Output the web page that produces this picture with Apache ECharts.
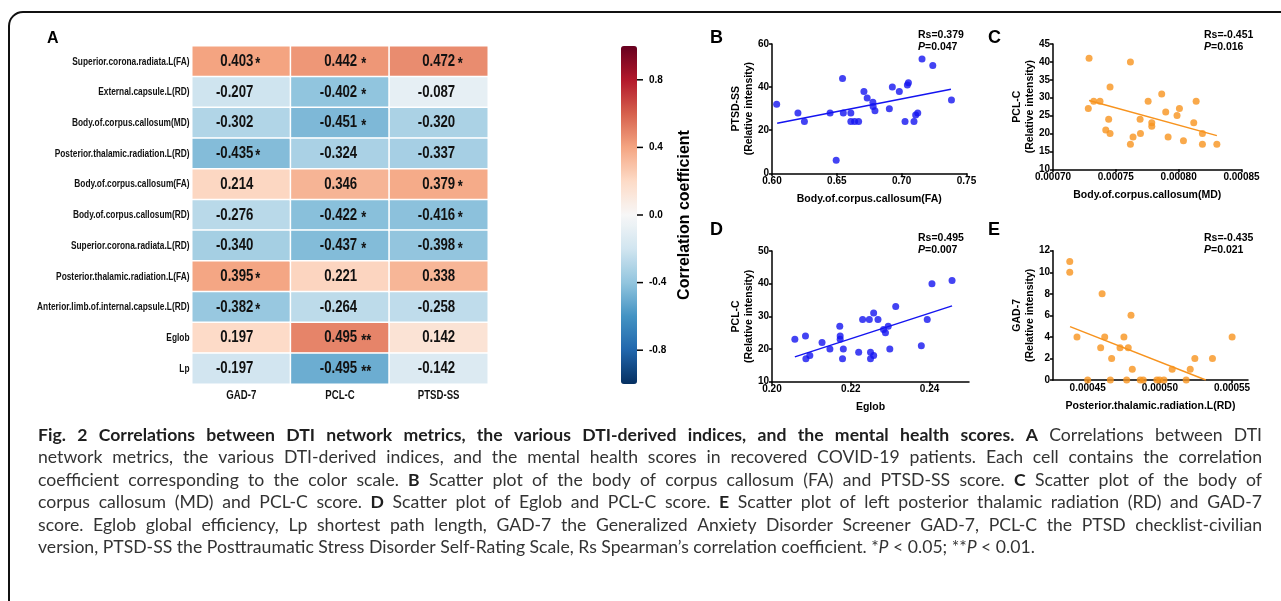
<!DOCTYPE html>
<html>
<head>
<meta charset="utf-8">
<script src="https://cdn.jsdelivr.net/npm/echarts@6/dist/echarts.min.js"></script>
<style>
html,body{margin:0;padding:0;background:#fff;}
#chart{width:1281px;height:601px;}
</style>
</head>
<body>
<div id="chart"></div>
<script>
// ---------------- DATA ----------------
const rows = ['Superior.corona.radiata.L(FA)','External.capsule.L(RD)','Body.of.corpus.callosum(MD)','Posterior.thalamic.radiation.L(RD)','Body.of.corpus.callosum(FA)','Body.of.corpus.callosum(RD)','Superior.corona.radiata.L(RD)','Posterior.thalamic.radiation.L(FA)','Anterior.limb.of.internal.capsule.L(RD)','Eglob','Lp'];
const cols = ['GAD-7','PCL-C','PTSD-SS'];
const gad7 = [0.403,-0.207,-0.302,-0.435,0.214,-0.276,-0.340,0.395,-0.382,0.197,-0.197];
const pclc = [0.442,-0.402,-0.451,-0.324,0.346,-0.422,-0.437,0.221,-0.264,0.495,-0.495];
const ptsdss = [0.472,-0.087,-0.320,-0.337,0.379,-0.416,-0.398,0.338,-0.258,0.142,-0.142];
const gad7Sig = ['*','','','*','','','','*','*','',''];
const pclcSig = ['*','*','*','','','*','*','','','**','**'];
const ptsdssSig = ['*','','','','*','*','*','','','',''];
const colorbarTicks = [-0.8,-0.4,0,0.4,0.8];

// B: Body.of.corpus.callosum(FA) vs PTSD-SS
const bX = [0.6036,0.620,0.625,0.6448,0.6544,0.655,0.6495,0.6608,0.6608,0.6637,0.6668,0.6709,0.6734,0.6778,0.678,0.6794,0.6905,0.6928,0.6982,0.7026,0.7044,0.7052,0.7095,0.7108,0.7124,0.7157,0.724,0.7384];
const bY = [32,28,24,28,44,28,6,28,24,24,24,38,35,33,31,29,30,40,38,24,41,42,24,27,28,53,50,34];
const bLineX = [0.604,0.738];
const bLineY = [23.2,39.0];
const bXTicks = [0.60,0.65,0.70,0.75];
// C: Body.of.corpus.callosum(MD) vs PCL-C
const cX = [0.0007287,0.0007281,0.0007324,0.0007374,0.0007454,0.0007443,0.000742,0.0007454,0.0007616,0.0007616,0.0007637,0.0007693,0.0007696,0.0007757,0.0007786,0.0007786,0.0007865,0.0007897,0.0007916,0.0007987,0.0008006,0.0008038,0.000812,0.0008139,0.0008189,0.0008189,0.0008304];
const cY = [41,27,29,29,33,24,21,20,40,17,19,24,20,29,23,22,31,26,19,25,27,18,23,29,20,17,17];
const cLineX = [0.0007287,0.0008304];
const cLineY = [29.2,19.4];
const cXTicks = [0.00070,0.00075,0.00080,0.00085];
// D: Eglob vs PCL-C
const dX = [0.2058,0.2085,0.2086,0.2096,0.2127,0.2147,0.2172,0.2173,0.2173,0.2179,0.2181,0.222,0.223,0.2247,0.225,0.225,0.2258,0.2258,0.2269,0.2283,0.2288,0.2295,0.2299,0.2314,0.2379,0.2394,0.2406,0.2457];
const dY = [23,24,17,18,22,20,27,24,23,17,20,19,29,29,19,17,18,31,29,26,25,27,20,33,21,29,40,41];
const dLineX = [0.2058,0.2457];
const dLineY = [17.6,33.2];
const dXTicks = [0.20,0.22,0.24];
// E: Posterior.thalamic.radiation.L(RD) vs GAD-7
const eX = [0.0004376,0.0004376,0.0004426,0.00045,0.000460,0.000459,0.0004618,0.0004657,0.0004666,0.0004724,0.0004751,0.000477,0.0004781,0.00048,0.0004809,0.0004864,0.0004885,0.0004979,0.0004998,0.0005028,0.0005085,0.0005182,0.000521,0.0005242,0.0005364,0.00055];
const eY = [11,10,4,0,8,3,4,0,2,3,4,0,3,6,1,0,0,0,0,0,1,0,1,2,2,4];
const eLineX = [0.0004378,0.0005318];
const eLineY = [4.95,0];
const eXTicks = [0.00045,0.00050,0.00055];

const stats = [
  {rs:'Rs=0.379', p:'=0.047'},
  {rs:'Rs=-0.451', p:'=0.016'},
  {rs:'Rs=0.495', p:'=0.007'},
  {rs:'Rs=-0.435', p:'=0.021'}
];

const capLines = [
 [['Fig. 2 Correlations between DTI network metrics, the various DTI-derived indices, and the mental health scores. A','b'],[' Correlations between DTI','n']],
 [['network metrics, the various DTI-derived indices, and the mental health scores in recovered COVID-19 patients. Each cell contains the correlation','n']],
 [['coefficient corresponding to the color scale. ','n'],['B','b'],[' Scatter plot of the body of corpus callosum (FA) and PTSD-SS score. ','n'],['C','b'],[' Scatter plot of the body of','n']],
 [['corpus callosum (MD) and PCL-C score. ','n'],['D','b'],[' Scatter plot of Eglob and PCL-C score. ','n'],['E','b'],[' Scatter plot of left posterior thalamic radiation (RD) and GAD-7','n']],
 [['score. Eglob global efficiency, Lp shortest path length, GAD-7 the Generalized Anxiety Disorder Screener GAD-7, PCL-C the PTSD checklist-civilian','n']],
 [['version, PTSD-SS the Posttraumatic Stress Disorder Self-Rating Scale, Rs Spearman\u2019s correlation coefficient. *','n'],['P','i'],[' < 0.05; **','n'],['P','i'],[' < 0.01.','n']]
];

// ---------------- STYLE ----------------
const ARIAL = "'Liberation Sans',Arial,sans-serif";
const CAP = "Lato,'Open Sans',sans-serif";
const RDBU = ['#053061','#2166ac','#4393c3','#92c5de','#d1e5f0','#f7f7f7','#fddbc7','#f4a582','#d6604d','#b2182b','#67001f'];
const BLUE = '#1414f0';
const ORANGE = '#f7931e';
const HEAT_TEXT = '#111';

const colVals = [gad7, pclc, ptsdss];
const colSig = [gad7Sig, pclcSig, ptsdssSig];
const numRight = [12, 17.2, 16.5];   // right edge of the number relative to cell centre
const starGap = [2, 4, 2.5];
const heatData = [];
const heatSig = [];
colVals.forEach((arr, c) => arr.forEach((v, r) => { heatData.push([c, r, v]); heatSig.push(colSig[c][r]); }));

const zip = (a, b) => a.map((v, i) => [v, b[i]]);

function sAxis(grid, o) {
  return Object.assign({
    gridIndex: grid, type: 'value',
    axisLine: {show: true, onZero: false, lineStyle: {color: '#000', width: 1.5}},
    axisTick: {show: true, length: 3, lineStyle: {color: '#000', width: 1.5}},
    axisLabel: {fontFamily: ARIAL, fontWeight: 'bold', fontSize: 10, color: '#000', margin: 3},
    splitLine: {show: false},
    nameTextStyle: {fontFamily: ARIAL, fontWeight: 'bold', fontSize: 10.5, color: '#000', lineHeight: 13.5},
    nameMoveOverlap: false
  }, o);
}
function xCustom(grid, min, max, ticks, dec, name) {
  const a = sAxis(grid, {min, max, name, nameLocation: 'middle', nameGap: 19});
  a.axisTick = Object.assign({}, a.axisTick, {customValues: ticks});
  a.axisLabel = Object.assign({}, a.axisLabel, {customValues: ticks, formatter: v => (+v).toFixed(dec)});
  return a;
}
function yAx(grid, min, max, interval, name) {
  return sAxis(grid, {min, max, interval, name, nameLocation: 'middle', nameGap: 16, nameRotate: 90});
}

// ---------------- CAPTION LAYOUT ----------------
const mctx = document.createElement('canvas').getContext('2d');
function capFont(st, size) {
  return (st === 'i' ? 'italic ' : 'normal ') + (st === 'b' ? 'bold ' : 'normal ') + size + 'px ' + CAP;
}
function measure(t, st, size) { mctx.font = capFont(st, size); return mctx.measureText(t).width; }
function toWords(line) {
  const words = [[]];
  line.forEach(([t, st]) => {
    t.split(' ').forEach((p, j) => {
      if (j > 0) words.push([]);
      if (p) words[words.length - 1].push({t: p, st});
    });
  });
  return words.filter(w => w.length);
}
const capWords = capLines.map(toWords);
const CAP_L = 38, CAP_R = 1262, CAP_Y0 = 435, CAP_LH = 22.5;
function natWidth(words, size) {
  let w = 0; words.forEach(wd => wd.forEach(p => w += measure(p.t, p.st, size)));
  return w + (words.length - 1) * measure(' ', 'n', size);
}
const capSize = 0.94 * 100 * (CAP_R - CAP_L) * 0.985 / Math.max(...capWords.slice(0, 5).map(w => natWidth(w, 100)));
const capGraphics = [];
capWords.forEach((words, li) => {
  const wsum = words.map(wd => wd.reduce((s, p) => s + measure(p.t, p.st, capSize), 0));
  const total = wsum.reduce((a, b) => a + b, 0);
  const gap = li < capWords.length - 1 ? (CAP_R - CAP_L - total) / (words.length - 1) : measure(' ', 'n', capSize);
  let x = CAP_L;
  const y = CAP_Y0 + li * CAP_LH;
  words.forEach((wd, wi) => {
    let px = x;
    wd.forEach(p => {
      capGraphics.push({type: 'text', silent: true, x: px, y: y, style: {
        text: p.t, fontFamily: CAP, fontSize: capSize,
        fontWeight: p.st === 'b' ? 'bold' : 'normal', fontStyle: p.st === 'i' ? 'italic' : 'normal',
        fill: p.st === 'b' ? '#1e1e1e' : '#333', verticalAlign: 'middle', align: 'left'}});
      px += measure(p.t, p.st, capSize);
    });
    x += wsum[wi] + gap;
  });
});

// ---------------- OTHER GRAPHICS ----------------
function letter(t, x, y) {
  return {type: 'text', silent: true, x, y, style: {text: t, fontFamily: ARIAL, fontWeight: 'bold', fontSize: 18, fill: '#000'}};
}
function statText(s, x, y) {
  return {type: 'text', silent: true, x, y, style: {
    text: '{b|' + s.rs + '}\n{i|P}{b|' + s.p + '}',
    rich: {
      b: {fontFamily: ARIAL, fontWeight: 'bold', fontSize: 10.5, fill: '#000', lineHeight: 11.5},
      i: {fontFamily: ARIAL, fontWeight: 'bold', fontStyle: 'italic', fontSize: 10.5, fill: '#000', lineHeight: 11.5}
    }}};
}
const graphics = [
  {type: 'rect', silent: true, shape: {x: 9, y: 12, width: 1330, height: 640, r: 14}, style: {fill: 'none', stroke: '#111', lineWidth: 2}},
  {type: 'text', silent: true, x: 47, y: 31, style: {text: 'A', fontFamily: ARIAL, fontWeight: 'bold', fontSize: 16, fill: '#000'}},
  letter('B', 710, 29), letter('C', 988, 29), letter('D', 710, 221), letter('E', 988, 221),
  statText(stats[0], 918, 29.5), statText(stats[1], 1204, 29.5),
  statText(stats[2], 918, 232.5), statText(stats[3], 1204, 232.5)
].concat(capGraphics);

// condensed bold text helper (Arial-Narrow look)
function cText(x, y, text, size, sx, align) {
  return {type: 'text', x, y, scaleX: sx, style: {text, fontFamily: ARIAL, fontWeight: 'bold', fontSize: size,
    fill: HEAT_TEXT, align, verticalAlign: 'middle'}};
}

// ---------------- OPTION ----------------
const option = {
  animation: false,
  backgroundColor: '#fff',
  grid: [
    {left: 192, top: 46, width: 296, height: 338, outerBoundsMode: 'none'},
    {left: 621, top: 46, width: 16, height: 338, outerBoundsMode: 'none'},
    {left: 772, top: 44, width: 194.5, height: 129.3, outerBoundsMode: 'none'},
    {left: 1053, top: 44, width: 188.5, height: 125.3, outerBoundsMode: 'none'},
    {left: 772, top: 251, width: 197, height: 130.7, outerBoundsMode: 'none'},
    {left: 1053, top: 250.7, width: 195, height: 129.3, outerBoundsMode: 'none'}
  ],
  xAxis: [
    {gridIndex: 0, type: 'category', data: cols, axisLine: {show: false}, axisTick: {show: false}, axisLabel: {show: false}, splitLine: {show: false}},
    {gridIndex: 1, type: 'value', show: false, min: 0, max: 1},
    xCustom(2, 0.6, 0.75, bXTicks, 2, 'Body.of.corpus.callosum(FA)'),
    xCustom(3, 0.0007, 0.00085, cXTicks, 5, 'Body.of.corpus.callosum(MD)'),
    xCustom(4, 0.2, 0.25, dXTicks, 2, 'Eglob'),
    xCustom(5, 0.000426, 0.000561, eXTicks, 5, 'Posterior.thalamic.radiation.L(RD)')
  ],
  yAxis: [
    {gridIndex: 0, type: 'category', data: rows, inverse: true, axisLine: {show: false}, axisTick: {show: false}, axisLabel: {show: false}, splitLine: {show: false}},
    {gridIndex: 1, type: 'value', min: -1, max: 1, position: 'right',
     axisLine: {show: false}, axisTick: {show: false},
     axisLabel: {customValues: colorbarTicks, formatter: v => (+v).toFixed(1), margin: 12, fontFamily: ARIAL, fontWeight: 'bold', fontSize: 10, color: '#000'},
     splitLine: {show: false},
     name: 'Correlation coefficient', nameLocation: 'middle', nameRotate: 90, nameGap: 40, nameMoveOverlap: false,
     nameTextStyle: {fontFamily: ARIAL, fontWeight: 'bold', fontSize: 16, color: '#000'}},
    yAx(2, 0, 60, 20, 'PTSD-SS\n(Relative intensity)'),
    yAx(3, 10, 45, 5, 'PCL-C\n(Relative intensity)'),
    yAx(4, 10, 50, 10, 'PCL-C\n(Relative intensity)'),
    yAx(5, 0, 12, 2, 'GAD-7\n(Relative intensity)')
  ],
  visualMap: {
    type: 'continuous', min: -1, max: 1, seriesIndex: 0, calculable: false, orient: 'vertical',
    left: 621, top: 46, itemWidth: 16, itemHeight: 338, padding: 0, hoverLink: false,
    inRange: {color: RDBU}
  },
  series: [
    {type: 'heatmap', xAxisIndex: 0, yAxisIndex: 0, data: heatData,
     itemStyle: {borderColor: '#fff', borderWidth: 1.5}, emphasis: {disabled: true}, label: {show: false}},
    // cell values
    {type: 'custom', xAxisIndex: 0, yAxisIndex: 0, data: heatData, silent: true, z: 5, clip: false,
     renderItem: (params, api) => {
       const c = api.value(0), r = api.value(1), v = api.value(2);
       const pt = api.coord([c, r]);
       const xr = pt[0] + numRight[c];
       const kids = [cText(xr, pt[1], v.toFixed(3), 16.5, 0.8, 'right')];
       const sig = heatSig[params.dataIndex];
       if (sig) kids.push(cText(xr + starGap[c], pt[1] + 3.5, sig, 16, 0.8, 'left'));
       return {type: 'group', children: kids};
     }},
    // row labels
    {type: 'custom', xAxisIndex: 0, yAxisIndex: 0, data: rows.map((_, r) => [0, r]), silent: true, z: 5, clip: false,
     renderItem: (params, api) => {
       const pt = api.coord([0, api.value(1)]);
       const half = api.size([1, 0])[0] / 2;
       return cText(pt[0] - half - 2.5, pt[1], rows[params.dataIndex], 11.5, 0.725, 'right');
     }},
    // column labels
    {type: 'custom', xAxisIndex: 0, yAxisIndex: 0, data: cols.map((_, c) => [c, rows.length - 1]), silent: true, z: 5, clip: false,
     renderItem: (params, api) => {
       const pt = api.coord([api.value(0), api.value(1)]);
       const half = api.size([0, 1])[1] / 2;
       return cText(pt[0], pt[1] + half + 12, cols[params.dataIndex], 12.5, 0.77, 'center');
     }},
    // colour-bar tick marks
    {type: 'custom', xAxisIndex: 1, yAxisIndex: 1, data: colorbarTicks.map(v => [1, v]), silent: true, z: 5, clip: false,
     renderItem: (params, api) => {
       const pt = api.coord([1, api.value(1)]);
       return {type: 'line', shape: {x1: pt[0], y1: pt[1], x2: pt[0] + 6, y2: pt[1]}, style: {stroke: '#000', lineWidth: 1.5}};
     }},
    {type: 'scatter', xAxisIndex: 2, yAxisIndex: 2, data: zip(bX, bY), symbolSize: 7, itemStyle: {color: BLUE}, clip: false},
    {type: 'line', xAxisIndex: 2, yAxisIndex: 2, data: zip(bLineX, bLineY), symbol: 'none', lineStyle: {color: BLUE, width: 1.5}},
    {type: 'scatter', xAxisIndex: 3, yAxisIndex: 3, data: zip(cX, cY), symbolSize: 7, itemStyle: {color: ORANGE}, clip: false},
    {type: 'line', xAxisIndex: 3, yAxisIndex: 3, data: zip(cLineX, cLineY), symbol: 'none', lineStyle: {color: ORANGE, width: 1.5}},
    {type: 'scatter', xAxisIndex: 4, yAxisIndex: 4, data: zip(dX, dY), symbolSize: 7, itemStyle: {color: BLUE}, clip: false},
    {type: 'line', xAxisIndex: 4, yAxisIndex: 4, data: zip(dLineX, dLineY), symbol: 'none', lineStyle: {color: BLUE, width: 1.5}},
    {type: 'scatter', xAxisIndex: 5, yAxisIndex: 5, data: zip(eX, eY), symbolSize: 7, itemStyle: {color: ORANGE}, clip: false},
    {type: 'line', xAxisIndex: 5, yAxisIndex: 5, data: zip(eLineX, eLineY), symbol: 'none', lineStyle: {color: ORANGE, width: 1.5}}
  ],
  graphic: graphics
};
const chart = echarts.init(document.getElementById('chart'), null, {renderer: 'canvas'});
chart.setOption(option);
</script>
</body>
</html>
